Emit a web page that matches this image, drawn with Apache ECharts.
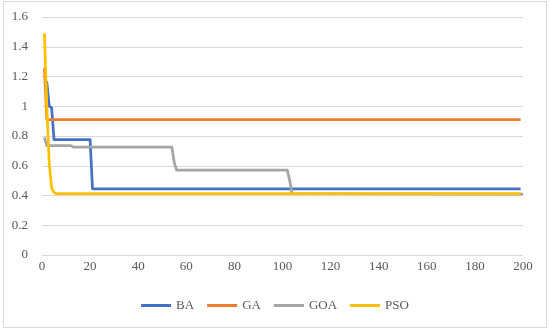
<!DOCTYPE html>
<html>
<head>
<meta charset="utf-8">
<script src="https://cdn.jsdelivr.net/npm/echarts@6/dist/echarts.min.js"></script>
<style>html,body{margin:0;padding:0;background:#fff}#c{width:550px;height:330px}</style>
</head>
<body>
<div id="c"></div>
<script>
// Breakpoints (iteration, value)
const seriesNames = ['BA', 'GA', 'GOA', 'PSO'];
const baX  = [1, 2, 3, 4, 5, 20, 21, 199];
const baY  = [1.17, 1.16, 1.0, 0.99, 0.775, 0.775, 0.445, 0.445];
const gaX  = [1, 2, 199];
const gaY  = [1.26, 0.91, 0.91];
const goaX = [1, 2, 12, 13, 54, 55, 56, 102, 103, 104, 200];
const goaY = [0.79, 0.735, 0.735, 0.725, 0.725, 0.62, 0.57, 0.57, 0.5, 0.413, 0.41];
const psoX = [1, 2, 3, 4, 5, 6, 199];
const psoY = [1.49, 1.0, 0.62, 0.45, 0.42, 0.412, 0.412];
const yTicks = [0, 0.2, 0.4, 0.6, 0.8, 1, 1.2, 1.4, 1.6];
const xTicks = [0, 20, 40, 60, 80, 100, 120, 140, 160, 180, 200];

const colors = ['#4472C4', '#ED7D31', '#A5A5A5', '#FFC000'];
const xs = [baX, gaX, goaX, psoX];
const ys = [baY, gaY, goaY, psoY];
const font = "'Liberation Serif', 'DejaVu Serif', serif";

const chart = echarts.init(document.getElementById('c'), null, {renderer: 'canvas'});
chart.setOption({
  animation: false,
  backgroundColor: '#fff',
  graphic: [{
    type: 'rect', silent: true,
    shape: {x: 3.5, y: 1.5, width: 543, height: 326},
    style: {fill: 'none', stroke: '#D9D9D9', lineWidth: 1}
  }],
  grid: {left: 42, right: 27, top: 17, bottom: 75},
  legend: {
    data: seriesNames,
    bottom: 13,
    left: 'center',
    icon: 'rect',
    itemWidth: 30,
    itemHeight: 3,
    itemGap: 13,
    textStyle: {fontFamily: font, fontSize: 13, color: '#595959'}
  },
  xAxis: {
    type: 'value',
    min: xTicks[0], max: xTicks[xTicks.length - 1], interval: xTicks[1] - xTicks[0],
    axisLine: {show: false},
    axisTick: {show: false},
    splitLine: {show: false},
    axisLabel: {margin: 5, fontFamily: font, fontSize: 13, color: '#595959'}
  },
  yAxis: {
    type: 'value',
    min: yTicks[0], max: yTicks[yTicks.length - 1], interval: yTicks[1] - yTicks[0],
    axisLine: {show: false},
    axisTick: {show: false},
    splitLine: {show: true, lineStyle: {color: '#D9D9D9', width: 1}},
    axisLabel: {margin: 14, fontFamily: font, fontSize: 13, color: '#595959',
      formatter: v => String(Math.round(v * 10) / 10)}
  },
  series: seriesNames.map((n, i) => ({
    name: n,
    type: 'line',
    showSymbol: false,
    symbol: 'none',
    smooth: false,
    color: colors[i],
    lineStyle: {width: 2.75, color: colors[i], join: 'round'},
    data: xs[i].map((x, k) => [x, ys[i][k]]),
    z: i + 2
  }))
});
</script>
</body>
</html>
